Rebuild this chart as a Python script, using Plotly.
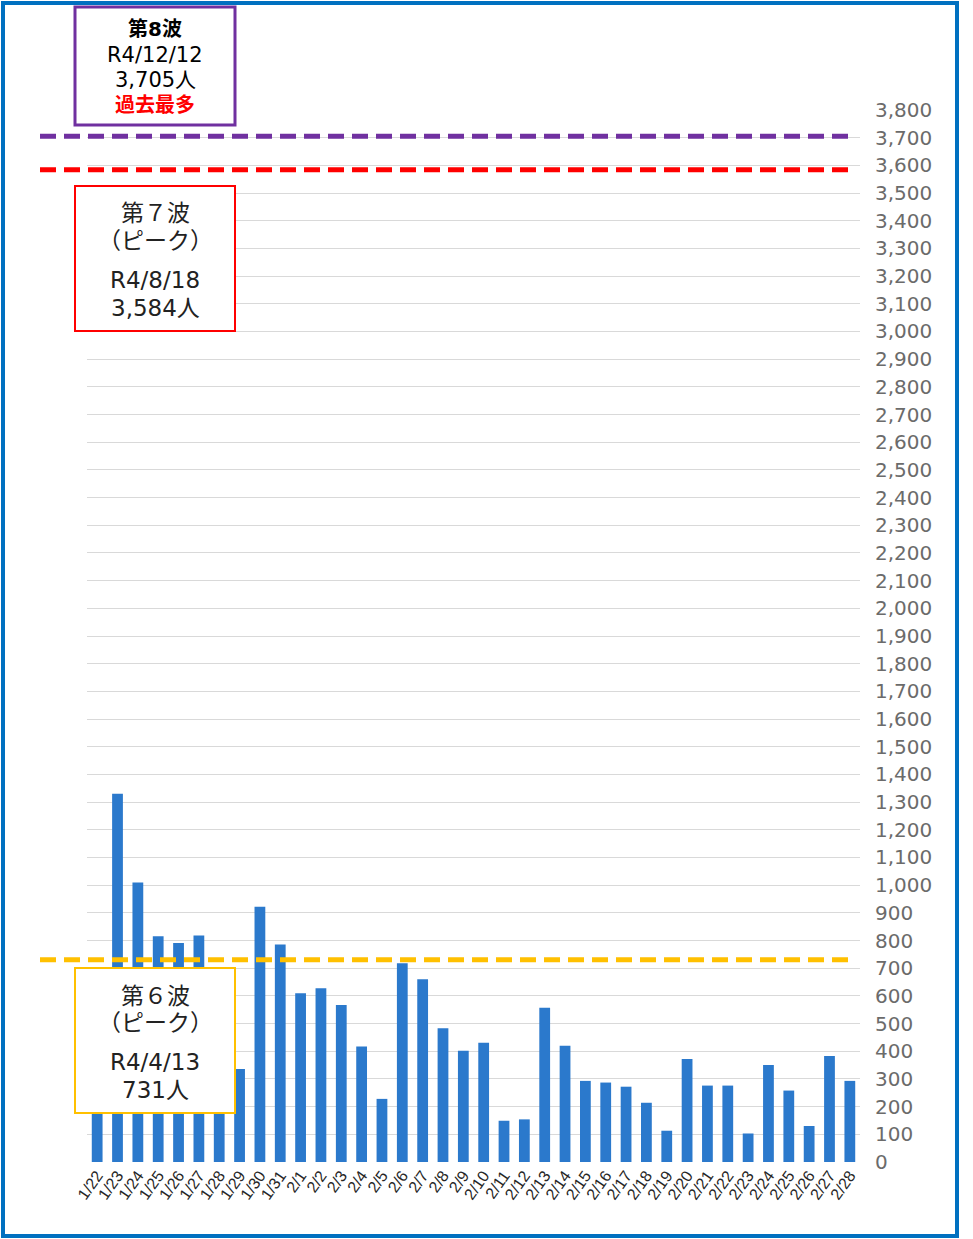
import plotly.graph_objects as go

dates = ["1/22", "1/23", "1/24", "1/25", "1/26", "1/27", "1/28", "1/29", "1/30", "1/31",
         "2/1", "2/2", "2/3", "2/4", "2/5", "2/6", "2/7", "2/8", "2/9", "2/10",
         "2/11", "2/12", "2/13", "2/14", "2/15", "2/16", "2/17", "2/18", "2/19", "2/20",
         "2/21", "2/22", "2/23", "2/24", "2/25", "2/26", "2/27", "2/28"]
cases = [520, 1330, 1010, 815, 791, 818, 640, 336, 922, 786,
         610, 628, 567, 417, 228, 718, 660, 483, 402, 431,
         149, 154, 557, 420, 293, 287, 272, 214, 113, 372,
         276, 276, 103, 350, 258, 130, 383, 293]

wave_values = [3705, 3584, 731]
wave_colors = ["#7030A0", "#FF0000", "#FFC000"]
wave8_lines = ["第8波", "R4/12/12", "3,705人", "過去最多"]
wave7_lines = ["第７波", "（ピーク）", "R4/8/18", "3,584人"]
wave6_lines = ["第６波", "（ピーク）", "R4/4/13", "731人"]

W, H = 973, 1239
L, R, T, B = 87, 113, 110, 77
PW, PH = W - L - R, H - T - B


def px(x):
    return (x - L) / PW


def py(y):
    return (H - B - y) / PH


fig = go.Figure()
fig.add_trace(go.Bar(x=dates, y=cases, marker_color="#2B79CC", marker_line_width=0))

shapes = []
for v, c in zip(wave_values, wave_colors):
    shapes.append(dict(type="line", xref="paper", yref="y", x0=px(40), x1=px(852), y0=v, y1=v,
                       line=dict(color=c, width=5, dash="16px,8px")))

boxes = [
    (75, 7, 235, 125, "#7030A0", 3),
    (75, 186, 235, 331, "#FF0000", 2),
    (75, 968, 235, 1113, "#FFC000", 2),
]
for x0, y0, x1, y1, c, w in boxes:
    shapes.append(dict(type="rect", xref="paper", yref="paper", x0=px(x0), x1=px(x1),
                       y0=py(y1), y1=py(y0), line=dict(color=c, width=w), fillcolor="white",
                       layer="above"))

shapes.append(dict(type="rect", xref="paper", yref="paper", x0=px(3), x1=px(957),
                   y0=py(1236), y1=py(3), line=dict(color="#0070C0", width=4)))

annotations = []
fam = "DejaVu Sans, Noto Sans CJK JP"


def add_lines(lines, ys, styles):
    for t, yy, st in zip(lines, ys, styles):
        annotations.append(dict(text=t, xref="paper", yref="paper", x=px(155), y=py(yy),
                                xanchor="center", yanchor="middle", showarrow=False,
                                font=dict(family=fam, **st)))


add_lines(wave8_lines, [29, 55, 80, 105],
          [dict(size=20, color="black", weight="bold"), dict(size=21, color="black"),
           dict(size=21, color="black"), dict(size=20, color="#FF0000", weight="bold")])
add_lines(wave7_lines, [213, 241, 280, 308], [dict(size=23, color="#222")] * 4)
add_lines(wave6_lines, [996, 1023, 1062, 1090], [dict(size=23, color="#222")] * 4)

fig.update_layout(
    width=W, height=H,
    margin=dict(l=L, r=R, t=T, b=B),
    paper_bgcolor="white", plot_bgcolor="white",
    showlegend=False,
    bargap=0.47,
    shapes=shapes,
    annotations=annotations,
    xaxis=dict(type="category", tickangle=-55, showgrid=False, showline=False,
               tickfont=dict(family="Liberation Sans", size=16, color="#262626"),
               ticks="", fixedrange=True),
    yaxis=dict(range=[0, 3800], dtick=100, tickformat=",", side="right",
               showgrid=True, gridcolor="#D9D9D9", gridwidth=1, zeroline=False,
               showline=False, ticks="", ticklabelstandoff=14,
               tickfont=dict(family="DejaVu Sans", size=20, color="#6B6B6B")),
)

fig.write_html("out.html", config={"displayModeBar": False},
               post_script="document.body.style.margin='0';document.body.style.padding='0';")
